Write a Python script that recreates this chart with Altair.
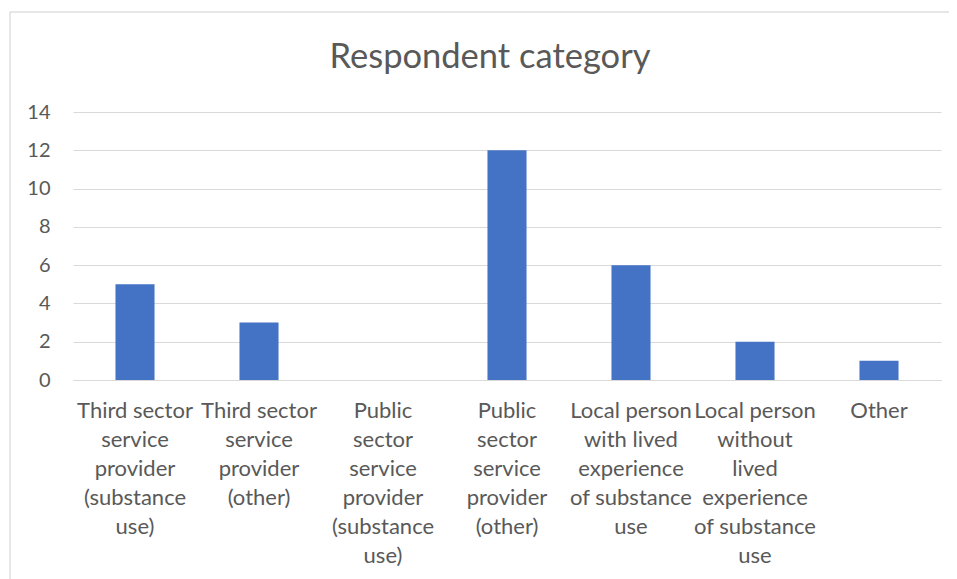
import altair as alt
import pandas as pd

categories = [
    "Third sector|service|provider|(substance|use)",
    "Third sector|service|provider|(other)",
    "Public|sector|service|provider|(substance|use)",
    "Public|sector|service|provider|(other)",
    "Local person|with lived|experience|of substance|use",
    "Local person|without|lived|experience|of substance|use",
    "Other",
]
counts = [5, 3, 0, 12, 6, 2, 1]
y_ticks = [0, 2, 4, 6, 8, 10, 12, 14]
chart_title = "Respondent category"

df = pd.DataFrame({"category": categories, "count": counts})

FONT = "Lato"
GREY = "#595959"
GRID = "#d9d9d9"
FRAME = "#d0d0d0"

bars = alt.Chart(df).mark_bar(color="#4472C4").encode(
    x=alt.X(
        "category:N",
        sort=categories,
        title=None,
        scale=alt.Scale(paddingInner=0.685, paddingOuter=0.3425),
        axis=alt.Axis(
            labelExpr="split(datum.label, '|')",
            labelAngle=0,
            labelOverlap=False,
            labelFlush=False,
            labelLimit=300,
            labelFont=FONT,
            labelFontSize=22,
            labelLineHeight=29,
            labelColor=GREY,
            labelPadding=20,
            ticks=False,
            domainColor=GRID,
            domainWidth=1,
            grid=False,
        ),
    ),
    y=alt.Y(
        "count:Q",
        title=None,
        scale=alt.Scale(domain=[0, 14], nice=False),
        axis=alt.Axis(
            values=y_ticks,
            labelFont=FONT,
            labelFontSize=20,
            labelColor=GREY,
            labelPadding=23,
            ticks=False,
            domain=False,
            gridColor=GRID,
            gridWidth=1,
        ),
    ),
)

one = pd.DataFrame({"k": [0]})
top_line = alt.Chart(one).mark_rect(color=FRAME, strokeWidth=0).encode(
    x=alt.value(-63), x2=alt.value(884), y=alt.value(-100.5), y2=alt.value(-99.5)
)
left_line = alt.Chart(one).mark_rect(color=FRAME, strokeWidth=0).encode(
    x=alt.value(-63.5), x2=alt.value(-62.5), y=alt.value(-100), y2=alt.value(700)
)

title = alt.Chart(pd.DataFrame({"t": [chart_title]})).mark_text(
    font=FONT, fontSize=34.5, color=GREY, align="center", baseline="alphabetic"
).encode(text="t:N", x=alt.value(417), y=alt.value(-44))

chart = alt.layer(top_line, left_line, bars, title).properties(
    width=868,
    height=268,
    padding={"left": 65, "top": 104, "right": 8, "bottom": 199},
    autosize=alt.AutoSizeParams(type="none"),
).configure_view(strokeWidth=0)

chart.save("out.html", embed_options={"renderer": "svg", "actions": False})
